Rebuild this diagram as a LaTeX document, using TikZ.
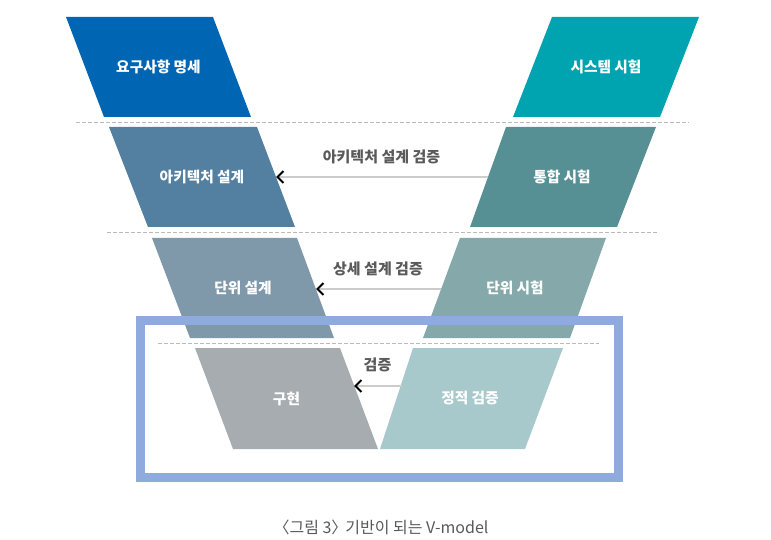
\documentclass[tikz,border=0pt]{standalone}
\usepackage{fontspec}
\setmainfont{Noto Sans CJK KR}
\usepackage{xcolor}
\usetikzlibrary{positioning,calc,arrows.meta}

\definecolor{reqblue}{HTML}{0066B3}
\definecolor{systeal}{HTML}{00A4B0}
\definecolor{archblue}{HTML}{537FA0}
\definecolor{integteal}{HTML}{568F94}
\definecolor{unitblue}{HTML}{7F99AB}
\definecolor{unitteal}{HTML}{85A9AB}
\definecolor{implgray}{HTML}{A7ACB0}
\definecolor{statteal}{HTML}{A7C9CC}
\definecolor{framblue}{HTML}{8FAADC}
\definecolor{textgray}{HTML}{5A5A5A}

\begin{document}
\begin{tikzpicture}[x=1pt,y=-1pt,
    stagelabel/.style={text=white,font=\fontsize{14.7}{17}\selectfont\bfseries},
    checklabel/.style={text=textgray,font=\fontsize{15}{18}\selectfont\bfseries},
    levelline/.style={draw=black!27,dash pattern=on 4pt off 2pt,line width=0.8pt},
    checkline/.style={draw=black!20,line width=1.2pt,
        -{Straight Barb[color=black,length=6pt,width=12pt,line width=2pt]}}]
    \useasboundingbox (0,0) rectangle (771,540);

    % left side of the V
    \fill [reqblue] (66,17) -- (213,17) -- (251,117) -- (104,117) -- cycle;
    \fill [archblue] (109,127) -- (257,127) -- (295,227) -- (148,227) -- cycle;
    \fill [unitblue] (152,238) -- (297,238) -- (334,338) -- (190,338) -- cycle;
    \fill [implgray] (195,348) -- (340,348) -- (378,449) -- (233,449) -- cycle;

    % right side of the V
    \fill [systeal] (552,17) -- (699,17) -- (660,117) -- (513,117) -- cycle;
    \fill [integteal] (506,127) -- (656,127) -- (617,227) -- (470,227) -- cycle;
    \fill [unitteal] (460,238) -- (606,238) -- (570,338) -- (423,338) -- cycle;
    \fill [statteal] (413,348) -- (563,348) -- (525,449) -- (380,449) -- cycle;

    \draw [levelline] (76,122) -- (689,122);
    \draw [levelline] (107,232.5) -- (658,232.5);
    \draw [levelline] (158,343) -- (599,343);

    \node [stagelabel] (req) at (158.5,67) {요구사항 명세};
    \node [stagelabel] (arch) at (202,177) {아키텍처 설계};
    \node [stagelabel] (udes) at (243,288) {단위 설계};
    \node [stagelabel] (impl) at (286.5,398.5) {구현};
    \node [stagelabel] (sys) at (606,67) {시스템 시험};
    \node [stagelabel] (integ) at (562,177) {통합 시험};
    \node [stagelabel] (utest) at (515,288) {단위 시험};
    \node [stagelabel] (stat) at (470,398.5) {정적 검증};

    \coordinate (archR) at (276,177);
    \coordinate (integL) at (488,177);
    \coordinate (udesR) at (316,289);
    \coordinate (utestL) at (441,289);
    \coordinate (implR) at (354,386);
    \coordinate (statL) at (402,386);

    \draw [checkline] (integL) -- (archR);
    \draw [checkline] (utestL) -- (udesR);
    \draw [checkline] (statL) -- (implR);

    \node [checklabel] (archchk) at (381.5,157) {아키텍처 설계 검증};
    \node [checklabel] (udeschk) at (378,269) {상세 설계 검증};
    \node [checklabel] (implchk) at (377.5,365) {검증};

    % focus frame
    \draw [framblue,line width=9pt] (140.5,320) rectangle (618,477.5);

    \node [text=black!65,font=\fontsize{16}{19}\selectfont] (caption) at (381,527) {〈그림 3〉\hspace{-0.35em} 기반이 되는 V-model};
\end{tikzpicture}
\end{document}
